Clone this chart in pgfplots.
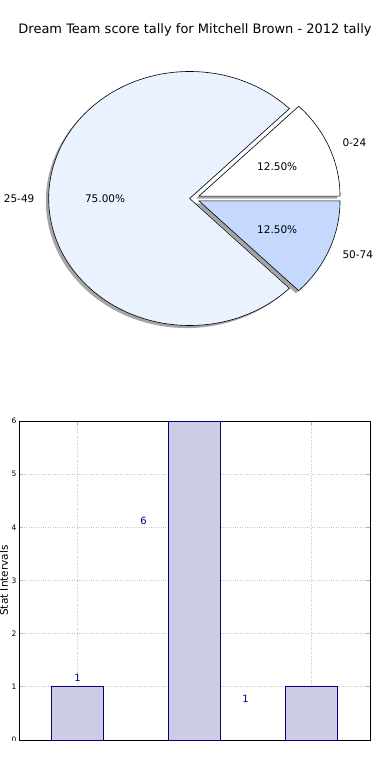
\documentclass[border=0pt]{standalone}
\usepackage{pgfplots}
\pgfplotsset{compat=1.18}
\usepackage{fontspec}
\setmainfont{DejaVu Sans}
\definecolor{bigc}{RGB}{235,242,255}
\definecolor{smallc}{RGB}{197,217,255}
\definecolor{barfill}{RGB}{204,204,229}
\definecolor{baredge}{RGB}{0,0,128}
\def\rx{141pt}\def\ry{127pt}\def\tot{8}
% cumulative, value, explode
\newcommand\pieshadow[3]{%
  \pgfmathsetmacro\sa{360*#1/\tot}%
  \pgfmathsetmacro\ea{360*(#1+#2)/\tot}%
  \pgfmathsetmacro\ma{(\sa+\ea)/2}%
  \pgfmathsetmacro\ex{#3*cos(\ma)-0.02}%
  \pgfmathsetmacro\ey{#3*sin(\ma)-0.02}%
  \pgfmathsetmacro\px{\ex+cos(\sa)}%
  \pgfmathsetmacro\py{\ey+sin(\sa)}%
  \fill[black!70,opacity=0.5] (axis cs:\ex,\ey) -- (axis cs:\px,\py) arc[start angle=\sa,end angle=\ea,x radius=\rx,y radius=\ry] -- cycle;
}
% cumulative, value, explode, colour, label, pct
\newcommand\pieslice[6]{%
  \pgfmathsetmacro\sa{360*#1/\tot}%
  \pgfmathsetmacro\ea{360*(#1+#2)/\tot}%
  \pgfmathsetmacro\ma{(\sa+\ea)/2}%
  \pgfmathsetmacro\ex{#3*cos(\ma)}%
  \pgfmathsetmacro\ey{#3*sin(\ma)}%
  \pgfmathsetmacro\px{\ex+cos(\sa)}%
  \pgfmathsetmacro\py{\ey+sin(\sa)}%
  \filldraw[fill=#4,draw=black,line width=0.6pt,line join=miter] (axis cs:\ex,\ey) -- (axis cs:\px,\py) arc[start angle=\sa,end angle=\ea,x radius=\rx,y radius=\ry] -- cycle;
  \pgfmathsetmacro\lx{\ex+1.1*cos(\ma)}%
  \pgfmathsetmacro\ly{\ey+1.1*sin(\ma)}%
  \pgfmathsetmacro\tx{\ex+0.6*cos(\ma)}%
  \pgfmathsetmacro\ty{\ey+0.6*sin(\ma)}%
  \pgfmathparse{\lx>0?1:0}%
  \ifnum\pgfmathresult=1
    \node[anchor=west,inner sep=0pt,font=\fontsize{10.5}{12}\selectfont] at (axis cs:\lx,\ly) {#5};
  \else
    \node[anchor=east,inner sep=0pt,font=\fontsize{10.5}{12}\selectfont] at (axis cs:\lx,\ly) {#5};
  \fi
  \node[inner sep=0pt,font=\fontsize{10.5}{12}\selectfont] at (axis cs:\tx,\ty) {#6};
}
\begin{document}
\begin{tikzpicture}
\useasboundingbox (0,0) rectangle (390pt,780pt);
\node[font=\fontsize{13}{15}\selectfont] at (195pt,750pt) {Dream Team score tally for Mitchell Brown - 2012 tally};
% pie: values 1, 6, 1 (total 8)
\begin{axis}[at={(192.5pt,581.5pt)},anchor=center,scale only axis,
  width=366.6pt,height=330.2pt,xmin=-1.3,xmax=1.3,ymin=-1.3,ymax=1.3,
  hide axis,clip=false]
\pgfplotsextra{%
  \pieshadow{0}{1}{0.05}%
  \pieshadow{1}{6}{0.02}%
  \pieshadow{7}{1}{0.05}%
  \pieslice{0}{1}{0.05}{white}{0-24}{12.50\%}%
  \pieslice{1}{6}{0.02}{bigc}{25-49}{75.00\%}%
  \pieslice{7}{1}{0.05}{smallc}{50-74}{12.50\%}%
}
\end{axis}
% bars
\begin{axis}[at={(19pt,40pt)},anchor=south west,scale only axis,
  width=351pt,height=319pt,xmin=-0.5,xmax=2.5,ymin=0,ymax=6,
  ybar,bar width=52pt,
  xtick={0,1,2},xticklabels={},ytick={0,1,2,3,4,5,6},
  grid=major,grid style={dotted,gray!45,line width=0.8pt},
  tick align=inside,major tick length=4pt,
  tick style={gray!60,line width=0.8pt},
  axis line style={black,line width=0.8pt},
  yticklabel style={font=\fontsize{7.5}{9}\selectfont,xshift=1pt},
  /pgf/number format/assume math mode=true,
  clip=false]
\addplot[fill=barfill,draw=baredge,line width=0.8pt] coordinates {(0,1) (1,6) (2,1)};
\node[text=baredge,font=\fontsize{10}{12}\selectfont] at (axis cs:0,1.166) {1};
\node[text=baredge,font=\fontsize{10}{12}\selectfont] at (axis cs:0.564,4.12) {6};
\node[text=baredge,font=\fontsize{10}{12}\selectfont] at (axis cs:1.436,0.77) {1};
\end{axis}
\node[rotate=90,font=\fontsize{10.5}{12}\selectfont] at (4pt,199.5pt) {Stat Intervals};
\fill[white] (0,0) rectangle (390pt,39.2pt);
\end{tikzpicture}
\end{document}
